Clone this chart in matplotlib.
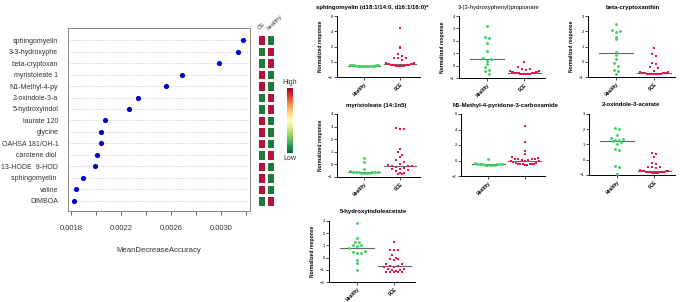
import numpy as np
import matplotlib
matplotlib.use("Agg")
import matplotlib.pyplot as plt
from matplotlib.colors import ListedColormap

plt.rcParams['font.family'] = ['Liberation Sans', 'DejaVu Sans']

# ---------------- data ----------------
features = ["sphingomyelin", "3-3-hydroxyphe", "beta-cryptoxan", "myristoleate 1",
            "N1-Methyl-4-py", "2-oxindole-3-a", "5-hydroxyindol", "laurate 120",
            "glycine", "OAHSA 181/OH-1", "carotene diol ", "13-HODE  9-HOD",
            "sphingomyelin ", "valine", "DIMBOA"]
mda = [0.003176, 0.003136, 0.002984, 0.002688, 0.00256, 0.002336, 0.002264, 0.002072,
       0.00204, 0.00204, 0.002008, 0.001992, 0.001896, 0.00184, 0.001824]
heat_ce = [1, 0, 0, 1, 1, 0, 0, 1, 1, 1, 0, 1, 1, 1, 0]
heat_healthy = [0, 1, 1, 0, 0, 1, 1, 0, 0, 0, 1, 0, 0, 0, 1]
heat_cols = ["CE", "healthy"]
x_ticks = [0.0018, 0.0020, 0.0022, 0.0024, 0.0026, 0.0028, 0.0030, 0.0032]
x_ticklabels = ["0.0018", "", "0.0022", "", "0.0026", "", "0.0030", ""]

groups = ["Healthy", "FCE"]

titles = ["sphingomyelin (d18:1/14:0, d16:1/16:0)*",
          "3-(3-hydroxyphenyl)propionate",
          "beta-cryptoxanthin",
          "myristoleate (14:1n5)",
          "N1-Methyl-4-pyridone-3-carboxamide",
          "2-oxindole-3-acetate",
          "5-hydroxyindoleacetate"]

h1 = [-0.42, -0.45, -0.47, -0.48, -0.5, -0.5, -0.5, -0.51, -0.52, -0.52, -0.53, -0.54, -0.55, -0.48]
f1 = [4.4, 2.0, 1.8, 1.0, 0.7, 0.55, 0.5, 0.45, 0.2, -0.15, -0.2, -0.25, -0.3, -0.3, -0.35,
      -0.4, -0.4, -0.42, -0.45, -0.45, -0.48, -0.5, -0.5, -0.5, -0.52, -0.52, -0.55]
h2 = [3.2, 2.3, 2.25, 1.85, 1.15, 0.6, 0.55, 0.4, 0.15, -0.15, -0.35, -0.45, -0.65]
f2 = [0.25, -0.1, -0.25, -0.3, -0.35, -0.4, -0.45, -0.5, -0.5, -0.55, -0.55, -0.58, -0.6,
      -0.6, -0.6, -0.62, -0.62, -0.63, -0.64, -0.65, -0.65, -0.66, -0.67, -0.68, -0.68, -0.7]
h3 = [2.5, 2.05, 2.0, 1.95, 1.6, 1.5, 0.65, 0.45, 0.15, -0.1, -0.3, -0.55, -0.6, -0.8]
f3 = [0.9, 0.5, 0.35, -0.1, -0.15, -0.35, -0.4, -0.6, -0.65, -0.7, -0.72, -0.75, -0.75,
      -0.76, -0.77, -0.77, -0.78, -0.78, -0.78, -0.79, -0.79, -0.8, -0.8, -0.8, -0.8]
h4 = [0.5, 0.2, -0.35, -0.55, -0.58, -0.6, -0.6, -0.62, -0.63, -0.64, -0.65, -0.65, -0.66, -0.68]
f4 = [2.9, 2.8, 2.78, 1.25, 1.0, 0.75, 0.6, 0.35, 0.2, 0.05, -0.05, -0.1, -0.1, -0.15,
      -0.2, -0.3, -0.35, -0.4, -0.45, -0.5, -0.65, -0.7, -0.75, -0.75]
h5 = [0.2, -0.3, -0.45, -0.48, -0.5, -0.5, -0.5, -0.52, -0.52, -0.53, -0.55, -0.55, -0.5]
f5 = [4.4, 2.45, 1.2, 0.9, 0.5, 0.3, 0.25, 0.25, 0.2, 0.15, 0.1, 0.05, 0.0, -0.05, -0.1,
      -0.2, -0.3, -0.35, -0.4, -0.45, -0.45, -0.5, -0.5, -0.5, -0.55, -0.55]
h6 = [2.05, 2.0, 1.65, 1.4, 1.35, 1.3, 1.3, 1.2, 1.15, 1.05, 0.7, 0.65, -0.4, -0.5, -0.95]
f6 = [0.45, 0.4, 0.2, -0.2, -0.3, -0.45, -0.45, -0.5, -0.55, -0.7, -0.72, -0.75, -0.76,
      -0.77, -0.78, -0.78, -0.8, -0.8, -0.82, -0.82, -0.85, -0.85, -0.85, -0.85]
h7 = [2.8, 1.6, 1.3, 1.25, 1.05, 1.0, 0.95, 0.75, 0.55, 0.45, 0.4, 0.4, -0.2, -0.45, -1.0]
f7 = [1.3, 0.65, 0.65, 0.6, 0.25, 0.0, -0.1, -0.15, -0.2, -0.5, -0.55, -0.65, -0.7, -0.75,
      -0.8, -0.9, -0.95, -1.0, -1.05, -1.1, -1.15, -1.15, -1.15, -1.15, -1.15]

healthy_sets = [h1, h2, h3, h4, h5, h6, h7]
fce_sets = [f1, f2, f3, f4, f5, f6, f7]
ylims = [(-2, 6), (-1, 4), (-1, 3), (-1, 4), (-2, 6), (-1, 3), (-2, 3)]
ysteps = [2, 1, 1, 1, 2, 1, 1]

# ---------------- layout ----------------
W, H = 685, 302
fig = plt.figure(figsize=(W / 100, H / 100), dpi=100)


def box(l, t, r, b):
    return [l / W, 1 - b / H, (r - l) / W, (b - t) / H]


# ---- left dot chart ----
ax = fig.add_axes(box(68, 28, 250, 211))
n = len(features)
ypos = np.arange(n)
for y in ypos:
    ax.axhline(y, color='#b8b8b8', lw=0.5, ls=(0, (1, 1.5)), zorder=0)
ax.scatter(mda, ypos, s=14, color='#0000cc', zorder=3, linewidths=0)
ax.set_ylim(n - 1 + 0.88, -1.05)
ax.set_xlim(0.001776, 0.003232)
ax.set_yticks(ypos)
ax.set_yticklabels(features, fontsize=5, color='#333333')
ax.tick_params(axis='y', length=0, pad=7)
ax.set_xticks(x_ticks)
ax.set_xticklabels(x_ticklabels, fontsize=5.5, color='#333333')
ax.tick_params(axis='x', length=3, width=0.6, color='#555555', pad=7)
for s in ax.spines.values():
    s.set_color('#888888')
    s.set_linewidth(0.7)
ax.set_xlabel("MeanDecreaseAccuracy", fontsize=5.6, color='#333333', labelpad=11)

# ---- heatmap ----
axh = fig.add_axes(box(257, 28, 275, 211))
hm = np.column_stack([heat_ce, heat_healthy])
cmap_h = ListedColormap(['#1f7a3c', '#b3133b'])
axh.pcolormesh(np.arange(3) - 0.5, np.arange(n + 1) - 0.5, hm, cmap=cmap_h,
               edgecolors='white', linewidth=1.0, vmin=0, vmax=1)
axh.set_ylim(n - 1 + 0.88, -1.05)
axh.set_xlim(-0.5, 1.5)
axh.axis('off')
for i, lab in enumerate(heat_cols):
    axh.text(i - 0.1, -0.8, lab, rotation=45, fontsize=4.3, ha='left', va='bottom',
             color='#333333', rotation_mode='anchor')

# ---- colour bar ----
axc = fig.add_axes(box(287, 88, 293, 153))
grad = np.linspace(0, 1, 256).reshape(-1, 1)
axc.imshow(grad, aspect='auto', cmap='RdYlGn_r', origin='lower', extent=[0, 1, 0, 1])
axc.set_xticks([])
axc.set_yticks([])
for s in axc.spines.values():
    s.set_visible(False)
fig.text(290 / W, 1 - 82 / H, "High", fontsize=5, ha='center', va='center', color='#333333')
fig.text(290 / W, 1 - 158 / H, "Low", fontsize=5, ha='center', va='center', color='#333333')


# ---- scatter panels (binned dot-plot layout, like Prism) ----
def dotplot_offsets(vals, ppu_y, ppu_x, binh=4.6, sp=4.0, maxw=30.0):
    ys = np.asarray(vals, float) * ppu_y
    bins = np.floor(ys / binh).astype(int)
    offs = np.zeros(len(ys))
    for bval in np.unique(bins):
        idx = np.where(bins == bval)[0]
        idx = idx[np.argsort(ys[idx])]
        m = len(idx)
        s = sp if m * sp <= maxw else maxw / m
        if m % 2 == 1:
            slots = [0.0]
            j = 1
            while len(slots) < m:
                slots += [j * s, -j * s]
                j += 1
        else:
            slots = []
            j = 0
            while len(slots) < m:
                slots += [(j + 0.5) * s, -(j + 0.5) * s]
                j += 1
        for i, sl in zip(idx, slots[:m]):
            offs[i] = sl
    return offs / ppu_x


panel_boxes = [(337, 16, 420, 77), (459, 16, 545, 78), (588, 16, 675, 77),
               (337, 114, 420, 177), (461, 114, 545, 176), (589, 114, 675, 175),
               (329, 221, 415, 282)]
title_x = [372, 499, 633, 376, 506, 631, 373]
title_y = [8, 8, 8, 105, 105, 105, 211]
show_ylabel = [True, True, True, True, False, False, True]
show_fce = [True, True, True, True, False, True, True]
bold_title = [True, False, True, True, True, True, True]
green = '#3fd162'
red = '#e8174a'
xlim = (-0.75, 1.55)

for k in range(7):
    l, t, r, b = panel_boxes[k]
    a = fig.add_axes(box(l, t, r, b))
    y0, y1 = ylims[k]
    ppu_y = (b - t) / (y1 - y0)
    ppu_x = (r - l) / (xlim[1] - xlim[0])
    for gi, (vals, col, mk) in enumerate([(healthy_sets[k], green, 'o'),
                                          (fce_sets[k], red, 's')]):
        off = dotplot_offsets(vals, ppu_y, ppu_x)
        a.scatter(gi + off, vals, s=4.4 if mk == 'o' else 4.0, marker=mk, color=col,
                  linewidths=0, zorder=3, clip_on=False)
        med = np.median(vals)
        a.plot([gi - 0.45, gi + 0.45], [med, med], color='#666666', lw=0.8, zorder=2)
    a.set_xlim(*xlim)
    a.set_ylim(y0, y1)
    a.set_yticks(np.arange(y0, y1 + 0.01, ysteps[k]))
    a.tick_params(axis='y', labelsize=3, length=2, width=0.5, pad=1)
    a.set_xticks([0, 1])
    labs = ["Healthy", "FCE" if show_fce[k] else ""]
    a.set_xticklabels(labs, rotation=45, ha='right', rotation_mode='anchor', fontsize=3.3,
                      fontweight='bold')
    a.tick_params(axis='x', length=2, width=0.5, pad=1)
    for s in ['top', 'right']:
        a.spines[s].set_visible(False)
    for s in ['left', 'bottom']:
        a.spines[s].set_linewidth(0.7)
    if show_ylabel[k]:
        a.set_ylabel("Normalized response", fontsize=3.6, fontweight='bold', labelpad=4)
    fig.text(title_x[k] / W, 1 - title_y[k] / H, titles[k], fontsize=4.3,
             fontweight='bold' if bold_title[k] else 'normal', ha='center', va='center')

fig.savefig("out.png", dpi=100)
